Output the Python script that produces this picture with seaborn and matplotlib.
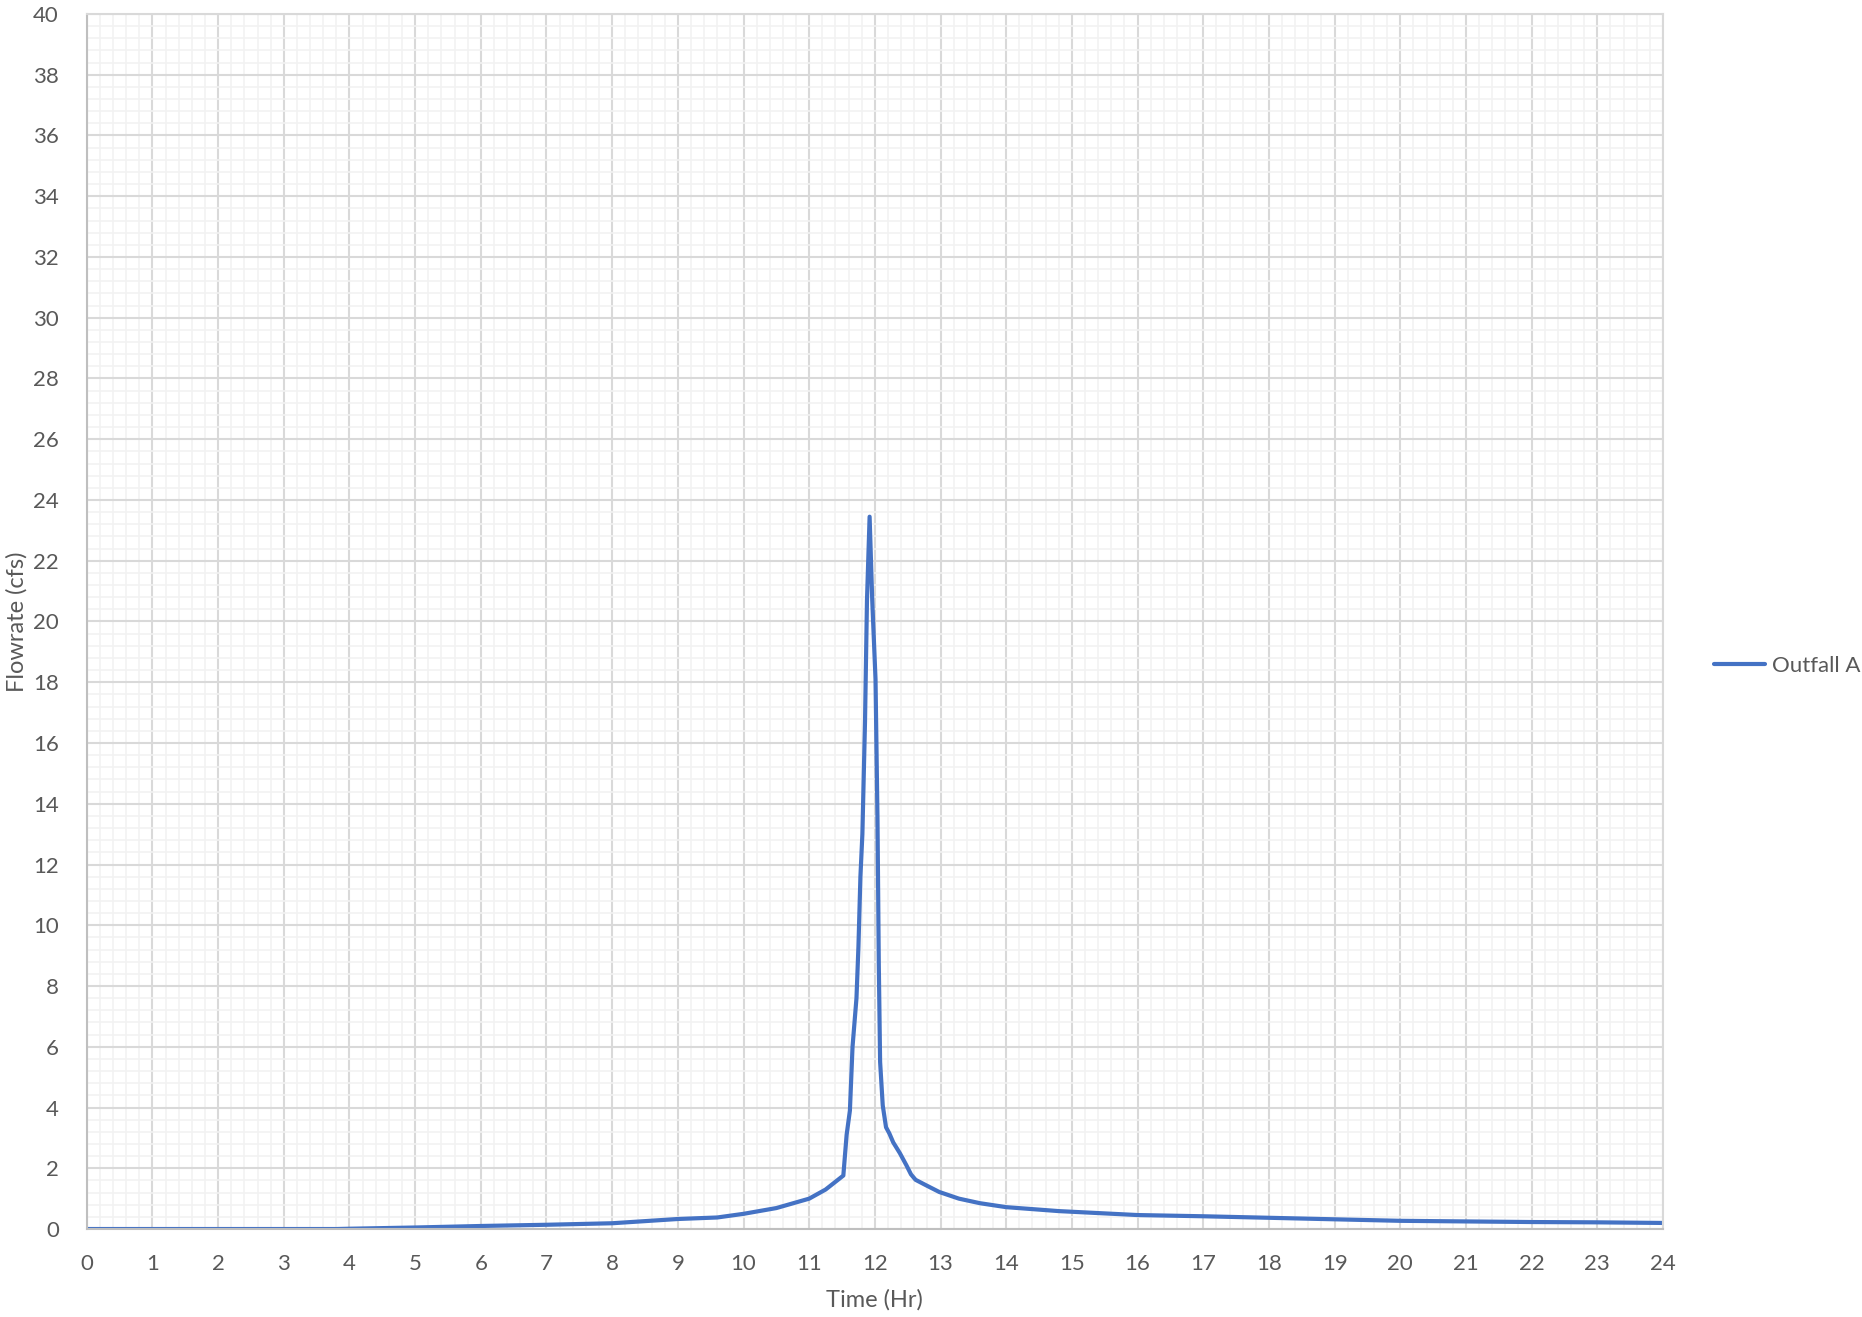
import matplotlib
matplotlib.use("Agg")
import matplotlib.pyplot as plt
from matplotlib.ticker import MultipleLocator
import seaborn as sns
import pandas as pd

# Outfall A hydrograph (time in hours, flow in cfs)
time_hr = [0, 1, 2, 3, 3.8, 4, 5, 6, 7, 8, 9, 9.6, 10, 10.5, 11, 11.25, 11.52,
           11.57, 11.62, 11.66, 11.72, 11.75, 11.78, 11.81, 11.85, 11.88, 11.92,
           11.96, 12.01, 12.04, 12.06, 12.08, 12.12, 12.17, 12.22, 12.28, 12.38,
           12.48, 12.55, 12.62, 12.78, 12.98, 13.28, 13.6, 14.0, 14.8, 16, 17, 18,
           19, 20, 21, 22, 23, 24]
flow_cfs = [0.0, 0.0, 0.0, 0.0, 0.0, 0.01, 0.05, 0.1, 0.14, 0.19, 0.33, 0.38, 0.5,
            0.69, 1.0, 1.3, 1.76,
            3.1, 3.9, 6.0, 7.6, 9.3, 11.6, 13.0, 16.7, 20.7, 23.45,
            20.7, 18.1, 13.5, 8.7, 5.5, 4.07, 3.35, 3.15, 2.85, 2.5,
            2.1, 1.8, 1.62, 1.44, 1.22, 1.0, 0.85, 0.72, 0.59, 0.46, 0.42, 0.37,
            0.32, 0.27, 0.25, 0.23, 0.22, 0.2]
series_name = "Outfall A"

x_ticks = list(range(0, 25))
y_ticks = list(range(0, 41, 2))

df = pd.DataFrame({"Time (Hr)": time_hr, "Flowrate (cfs)": flow_cfs,
                   "Series": series_name})

sns.set_style("white")
plt.rcParams["font.family"] = ["Lato", "DejaVu Sans"]

text_color = "#595959"
line_color = "#4472C4"

fig = plt.figure(figsize=(18.62, 13.17), dpi=100)
ax = fig.add_axes([0.0466, 0.0668, 0.8465, 0.9226])

sns.lineplot(data=df, x="Time (Hr)", y="Flowrate (cfs)", hue="Series",
             palette=[line_color], linewidth=3.0, ax=ax, legend=True,
             solid_joinstyle="round", solid_capstyle="round")

ax.set_xlim(0, 24)
ax.set_ylim(0, 40)
ax.set_xticks(x_ticks)
ax.set_yticks(y_ticks)
ax.xaxis.set_minor_locator(MultipleLocator(0.2))
ax.yaxis.set_minor_locator(MultipleLocator(0.4))

ax.grid(which="major", color="#D9D9D9", linewidth=1.5, zorder=0)
ax.grid(which="minor", color="#F2F2F2", linewidth=1.2, zorder=0)
ax.set_axisbelow(True)

for side in ["left", "bottom"]:
    ax.spines[side].set_color("#BFBFBF")
    ax.spines[side].set_linewidth(1.5)
for side in ["top", "right"]:
    ax.spines[side].set_color("#D9D9D9")
    ax.spines[side].set_linewidth(1.5)

ax.tick_params(axis="both", which="both", length=0, labelsize=16,
               labelcolor=text_color)
ax.tick_params(axis="x", pad=18)
ax.tick_params(axis="y", pad=20)

ax.set_xlabel("Time (Hr)", fontsize=17, color=text_color, va="center")
ax.set_ylabel("Flowrate (cfs)", fontsize=17, color=text_color, va="center")
ax.xaxis.set_label_coords(0.5, -0.0584)
ax.yaxis.set_label_coords(-0.0442, 0.5)

leg = ax.get_legend()
handles, labels = ax.get_legend_handles_labels()
leg.remove()
fig.legend(handles, labels, loc="center left",
           bbox_to_anchor=(0.9205, 0.4943), frameon=False, fontsize=16,
           labelcolor=text_color, handlelength=2.3, handletextpad=0.3,
           borderpad=0, borderaxespad=0)

fig.savefig("out.png", dpi=100, facecolor="white")
